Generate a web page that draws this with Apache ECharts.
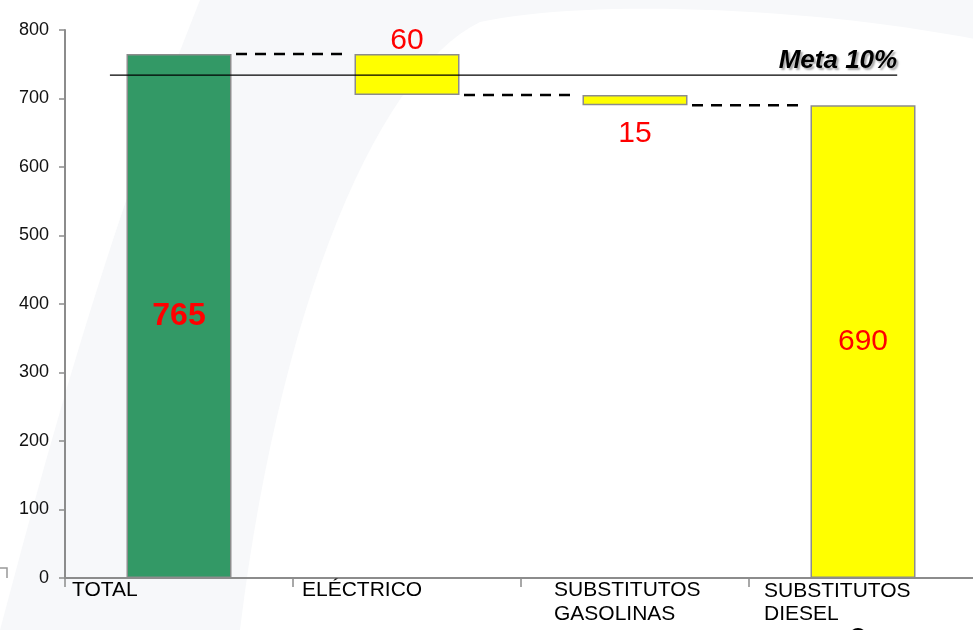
<!DOCTYPE html>
<html>
<head>
<meta charset="utf-8">
<script src="https://cdn.jsdelivr.net/npm/echarts@6/dist/echarts.min.js"></script>
<style>
html,body{margin:0;padding:0;background:#fff;overflow:hidden}
#main{width:980px;height:630px}
</style>
</head>
<body>
<div id="main"></div>
<script>
// datos
var categories = ['TOTAL', 'ELÉCTRICO', 'SUBSTITUTOS\nGASOLINAS', 'SUBSTITUTOS\nDIESEL'];
var barBase = [0, 705, 690, 0];
var barValue = [765, 60, 15, 690];
var stepLevels = [765, 705, 690];
var metaValue = 734;
var metaText = 'Meta 10%';
var yMin = 0, yMax = 800, yStep = 100;

var FONT = '"Liberation Sans", Arial, sans-serif';
var chart = echarts.init(document.getElementById('main'));

// estilos por barra
var barColors = ['#339966', '#ffff00', '#ffff00', '#ffff00'];
var labelPos = ['inside', 'top', 'bottom', 'inside'];
var labelDist = [0, -2, 13, 0];
var labelBold = [true, false, false, false];
// desplazamiento de las etiquetas del eje x
var shiftX = [7, 9, 33, 15];
var shiftY = [0, 0, 0, 3];

var rich = {};
categories.forEach(function (c, i) {
  rich['c' + i + 'a'] = {fontSize: 21, lineHeight: 24, fontFamily: FONT, color: '#000', padding: [shiftY[i], 0, 0, shiftX[i]]};
  rich['c' + i + 'b'] = {fontSize: 21, lineHeight: 24, fontFamily: FONT, color: '#000', padding: [0, 0, 0, shiftX[i]]};
});

var valueData = barValue.map(function (v, i) {
  return {
    value: v,
    itemStyle: {color: barColors[i]},
    label: {
      show: true,
      position: labelPos[i],
      distance: labelDist[i],
      fontSize: labelBold[i] ? 32 : 30,
      fontWeight: labelBold[i] ? 'bold' : 'normal'
    }
  };
});

// fondo: curva gris clara (marca de agua)
function bez(p0, p1, p2, p3, n) {
  var pts = [];
  for (var k = 0; k <= n; k++) {
    var t = k / n, u = 1 - t;
    pts.push([
      u*u*u*p0[0] + 3*u*u*t*p1[0] + 3*u*t*t*p2[0] + t*t*t*p3[0],
      u*u*u*p0[1] + 3*u*u*t*p1[1] + 3*u*t*t*p2[1] + t*t*t*p3[1]
    ]);
  }
  return pts;
}
var swoosh = []
  .concat(bez([0, 630], [40, 480], [100, 250], [200, 0], 30))
  .concat([[980, 0]])
  .concat(bez([980, 40], [800, 5], [580, 0], [480, 22], 30))
  .concat(bez([480, 22], [380, 70], [280, 300], [240, 630], 30));

var option = {
  backgroundColor: '#fff',
  animation: false,
  textStyle: {fontFamily: FONT},
  graphic: [
    {
      type: 'polygon', z: -10, silent: true,
      shape: {points: swoosh},
      style: {fill: '#f7f8fa'}
    },
    {
      type: 'polyline', silent: true,
      shape: {points: [[0, 568], [7, 568], [7, 578]]},
      style: {stroke: '#999', lineWidth: 1.5, fill: null}
    },
    {
      type: 'circle', silent: true,
      shape: {cx: 858, cy: 637, r: 8},
      style: {stroke: '#000', lineWidth: 2, fill: null}
    }
  ],
  grid: {left: 65, top: 30, width: 912, height: 548, containLabel: false},
  xAxis: [
    {
      type: 'category',
      data: categories,
      axisLine: {lineStyle: {color: '#8c8c8c', width: 2}},
      axisTick: {show: true, length: 9, lineStyle: {color: '#8c8c8c', width: 1.5}},
      axisLabel: {show: false}
    },
    {
      type: 'category',
      position: 'bottom',
      boundaryGap: false,
      data: categories.concat(['']),
      axisLine: {show: false},
      axisTick: {show: false},
      axisLabel: {
        interval: 0,
        align: 'left',
        verticalAlign: 'top',
        margin: 0,
        formatter: function (v, i) {
          if (!v) return '';
          return v.split('\n').map(function (l, k) {
            return '{c' + i + (k === 0 ? 'a' : 'b') + '|' + l + '}';
          }).join('\n');
        },
        rich: rich
      }
    }
  ],
  yAxis: {
    type: 'value',
    min: yMin, max: yMax, interval: yStep,
    axisLine: {show: true, lineStyle: {color: '#8c8c8c', width: 2}},
    axisTick: {show: true, length: 6, lineStyle: {color: '#8c8c8c', width: 1.5}},
    splitLine: {show: false},
    axisLabel: {fontSize: 18, color: '#111', margin: 16, fontFamily: FONT}
  },
  series: [
    {
      type: 'bar', stack: 'w', barWidth: 105,
      itemStyle: {color: 'transparent'},
      emphasis: {disabled: true},
      data: barBase
    },
    {
      type: 'bar', stack: 'w', barWidth: 105,
      itemStyle: {borderColor: '#8c8c8c', borderWidth: 1.5},
      label: {color: '#ff0000', fontFamily: FONT},
      data: valueData
    },
    {
      // conectores punteados
      type: 'custom',
      data: stepLevels.map(function (v, i) { return [i, v]; }),
      renderItem: function (params, api) {
        var p = api.coord([api.value(0), api.value(1)]);
        var band = api.size([1, 0])[0];
        return {
          type: 'line',
          shape: {x1: p[0] + band * 0.25, y1: p[1], x2: p[0] + band * 0.72, y2: p[1]},
          style: {stroke: '#000', lineWidth: 2.5, lineDash: [11, 8]}
        };
      },
      z: 5
    },
    {
      // linea meta
      type: 'custom',
      data: [[0, metaValue]],
      renderItem: function (params, api) {
        var a = api.coord([0, api.value(1)]);
        var b = api.coord([categories.length - 1, api.value(1)]);
        var band = api.size([1, 0])[0];
        var x1 = a[0] - band * 0.303, x2 = b[0] + band * 0.15;
        return {
          type: 'group',
          children: [
            {type: 'line', shape: {x1: x1, y1: a[1], x2: x2, y2: a[1]}, style: {stroke: '#000', lineWidth: 1.3}},
            {type: 'text', x: x2, y: a[1] - 1,
              style: {text: metaText, align: 'right', verticalAlign: 'bottom', fill: '#000',
                font: 'italic bold 26px ' + FONT,
                textShadowColor: 'rgba(0,0,0,0.35)', textShadowOffsetX: 2, textShadowOffsetY: 2, textShadowBlur: 2}}
          ]
        };
      },
      z: 6
    }
  ]
};
chart.setOption(option);
</script>
</body>
</html>
